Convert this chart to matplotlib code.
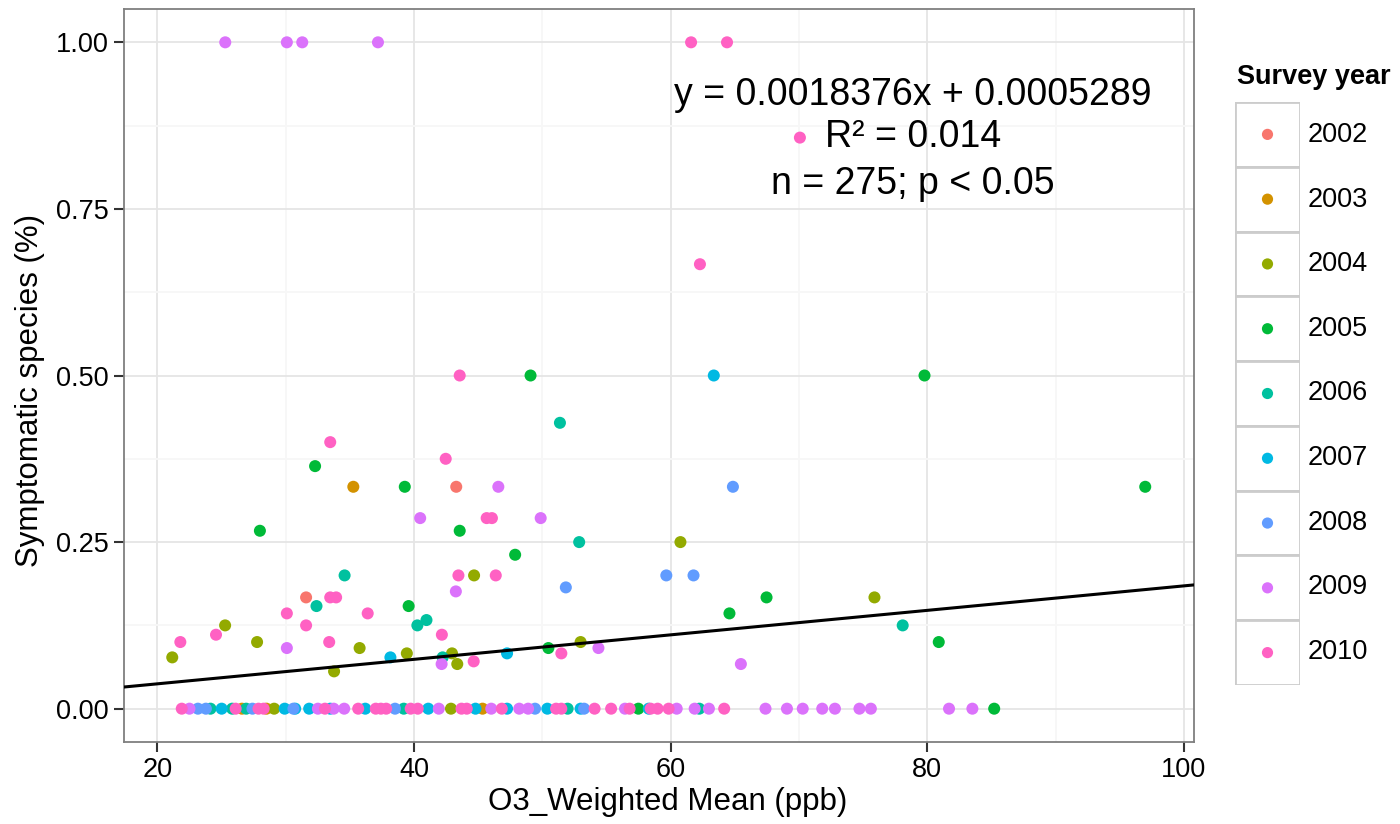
import matplotlib
matplotlib.use("Agg")
import matplotlib.pyplot as plt
from matplotlib.patches import Rectangle
from matplotlib.ticker import MultipleLocator

plt.rcParams['font.family'] = ['Liberation Sans', 'DejaVu Sans']

years = ['2002', '2003', '2004', '2005', '2006', '2007', '2008', '2009', '2010']
colors = ['#F8766D', '#D39200', '#93AA00', '#00BA38', '#00C19F',
          '#00B9E3', '#619CFF', '#DB72FB', '#FF61C3']

# O3 weighted mean (ppb) and symptomatic species share, by survey year
x2002 = [43.3, 31.6]
y2002 = [0.333, 0.167]

x2003 = [35.28, 26.6, 28.51, 45.35]
y2003 = [0.333, 0.0, 0.0, 0.0]

x2004 = [44.69, 60.77, 75.89, 25.29, 27.78, 52.99, 35.77, 39.45, 42.97, 21.17, 43.38, 33.78, 29.11, 42.89]
y2004 = [0.2, 0.25, 0.167, 0.125, 0.1, 0.1, 0.091, 0.083, 0.083, 0.077, 0.067, 0.056, 0.0, 0.0]

x2005 = [49.09, 79.79, 32.3, 39.29, 96.99, 28.0, 43.57, 47.89, 67.48, 39.59, 64.59, 80.9, 50.48, 57.49, 85.22]
y2005 = [0.5, 0.5, 0.364, 0.333, 0.333, 0.267, 0.267, 0.231, 0.167, 0.154, 0.143, 0.1, 0.091, 0.0, 0.0]

x2006 = [51.38, 52.88, 34.6, 32.41, 40.98, 40.27, 78.09, 42.24, 24.15, 25.84, 26.93, 39.21, 51.98, 62.24]
y2006 = [0.429, 0.25, 0.2, 0.154, 0.133, 0.125, 0.125, 0.077, 0.0, 0.0, 0.0, 0.0, 0.0, 0.0]

x2007 = [63.37, 38.17, 47.26, 25.02, 29.93, 30.75, 31.84, 33.48, 36.21, 41.12, 44.8, 47.26, 50.4, 52.99, 58.3]
y2007 = [0.5, 0.077, 0.083, 0.0, 0.0, 0.0, 0.0, 0.0, 0.0, 0.0, 0.0, 0.0, 0.0, 0.0, 0.0]

x2008 = [64.86, 59.67, 61.79, 51.84, 23.17, 23.79, 27.42, 30.61, 38.53, 49.44, 53.26]
y2008 = [0.333, 0.2, 0.2, 0.182, 0.0, 0.0, 0.0, 0.0, 0.0, 0.0, 0.0]

x2009 = [25.3, 30.1, 31.3, 37.2, 46.58, 40.49, 49.88, 43.27, 30.1, 54.38, 42.16, 65.48,
         22.51, 32.52, 33.75, 34.57, 41.94, 46.03, 48.21, 48.9, 56.45, 60.48, 61.88, 62.99,
         67.4, 69.07, 70.3, 71.82, 72.81, 74.72, 75.61, 81.7, 83.52]
y2009 = [1.0, 1.0, 1.0, 1.0, 0.333, 0.286, 0.286, 0.176, 0.091, 0.091, 0.067, 0.067,
         0.0, 0.0, 0.0, 0.0, 0.0, 0.0, 0.0, 0.0, 0.0, 0.0, 0.0, 0.0,
         0.0, 0.0, 0.0, 0.0, 0.0, 0.0, 0.0, 0.0, 0.0]

x2010 = [61.6, 64.4, 70.08, 62.29, 43.57, 33.48, 42.48, 45.67, 46.08, 43.47, 46.38, 33.48, 33.94,
         30.1, 36.4, 31.6, 24.58, 42.18, 21.8, 33.4, 44.66, 51.49,
         21.91, 26.11, 27.89, 28.29, 33.07, 35.66, 37.03, 37.43, 37.84, 39.75, 40.3, 43.71, 44.12,
         46.85, 51.08, 51.49, 54.08, 55.37, 56.81, 58.45, 58.99, 59.85, 64.18]
y2010 = [1.0, 1.0, 0.857, 0.667, 0.5, 0.4, 0.375, 0.286, 0.286, 0.2, 0.2, 0.167, 0.167,
         0.143, 0.143, 0.125, 0.111, 0.111, 0.1, 0.1, 0.071, 0.083,
         0.0, 0.0, 0.0, 0.0, 0.0, 0.0, 0.0, 0.0, 0.0, 0.0, 0.0, 0.0, 0.0,
         0.0, 0.0, 0.0, 0.0, 0.0, 0.0, 0.0, 0.0, 0.0, 0.0]

xs = [x2002, x2003, x2004, x2005, x2006, x2007, x2008, x2009, x2010]
ys = [y2002, y2003, y2004, y2005, y2006, y2007, y2008, y2009, y2010]

slope = 0.0018376
intercept = 0.0005289
eq_lines = ["y = 0.0018376x + 0.0005289", "R\u00b2 = 0.014", "n = 275; p < 0.05"]

xlim = (17.41, 100.79)
ylim = (-0.05, 1.05)

W, H = 1400, 824
fig = plt.figure(figsize=(W / 100, H / 100), dpi=100)
ax = fig.add_axes([124 / W, 1 - 742 / H, (1194 - 124) / W, (742 - 9) / H])

ax.set_xlim(*xlim)
ax.set_ylim(*ylim)
ax.xaxis.set_major_locator(MultipleLocator(20))
ax.xaxis.set_minor_locator(MultipleLocator(10))
ax.yaxis.set_major_locator(MultipleLocator(0.25))
ax.yaxis.set_minor_locator(MultipleLocator(0.125))
ax.yaxis.set_major_formatter(matplotlib.ticker.FormatStrFormatter('%.2f'))
ax.grid(which='major', color='#E5E5E5', linewidth=1.3, zorder=0)
ax.grid(which='minor', color='#F7F7F7', linewidth=1.3, zorder=0)
ax.set_axisbelow(True)
for sp in ax.spines.values():
    sp.set_color('#7F7F7F')
    sp.set_linewidth(1.3)
ax.tick_params(which='major', length=7, width=1.5, color='#333333', labelsize=19.5,
               labelcolor='black', pad=4)
ax.tick_params(which='minor', length=0)

for x, y, c in zip(xs, ys, colors):
    ax.scatter(x, y, s=75, color=c, edgecolors='none', zorder=2)

lx = list(xlim)
ly = [intercept + slope * v for v in lx]
ax.plot(lx, ly, color='black', linewidth=2.2, zorder=3)

tx = (913 - 124) / 1070
for line, ty in zip(eq_lines, [95, 137, 184]):
    ax.text(tx, (742 - ty) / 733, line, transform=ax.transAxes, ha='center', va='center',
            fontsize=27, color='black', zorder=4)

fig.text(668 / W, 1 - 802 / H, "O3_Weighted Mean (ppb)", ha='center', va='center', fontsize=22.5)
fig.text(30 / W, 1 - 390 / H, "Symptomatic species (%)", ha='center', va='center',
         rotation=90, fontsize=22.5)

# legend
lg = fig.add_axes([1235 / W, 1 - 685 / H, (1300 - 1235) / W, (685 - 102) / H])
lg.set_xlim(0, 1)
lg.set_ylim(0, len(years))
lg.axis('off')
for i, (yr, c) in enumerate(zip(years, colors)):
    yy = len(years) - 1 - i
    lg.add_patch(Rectangle((0, yy), 1, 1, facecolor='white', edgecolor='#CCCCCC', linewidth=2))
    lg.scatter([0.5], [yy + 0.5], s=65, color=c, edgecolors='none')
    fig.text(1308 / W, 1 - (135 + i * 64.6) / H, yr, ha='left', va='center', fontsize=19.5)
fig.text(1237 / W, 1 - 77 / H, "Survey year", ha='left', va='center', fontsize=19.5,
         fontweight='bold')

fig.savefig("out.png", dpi=100)
